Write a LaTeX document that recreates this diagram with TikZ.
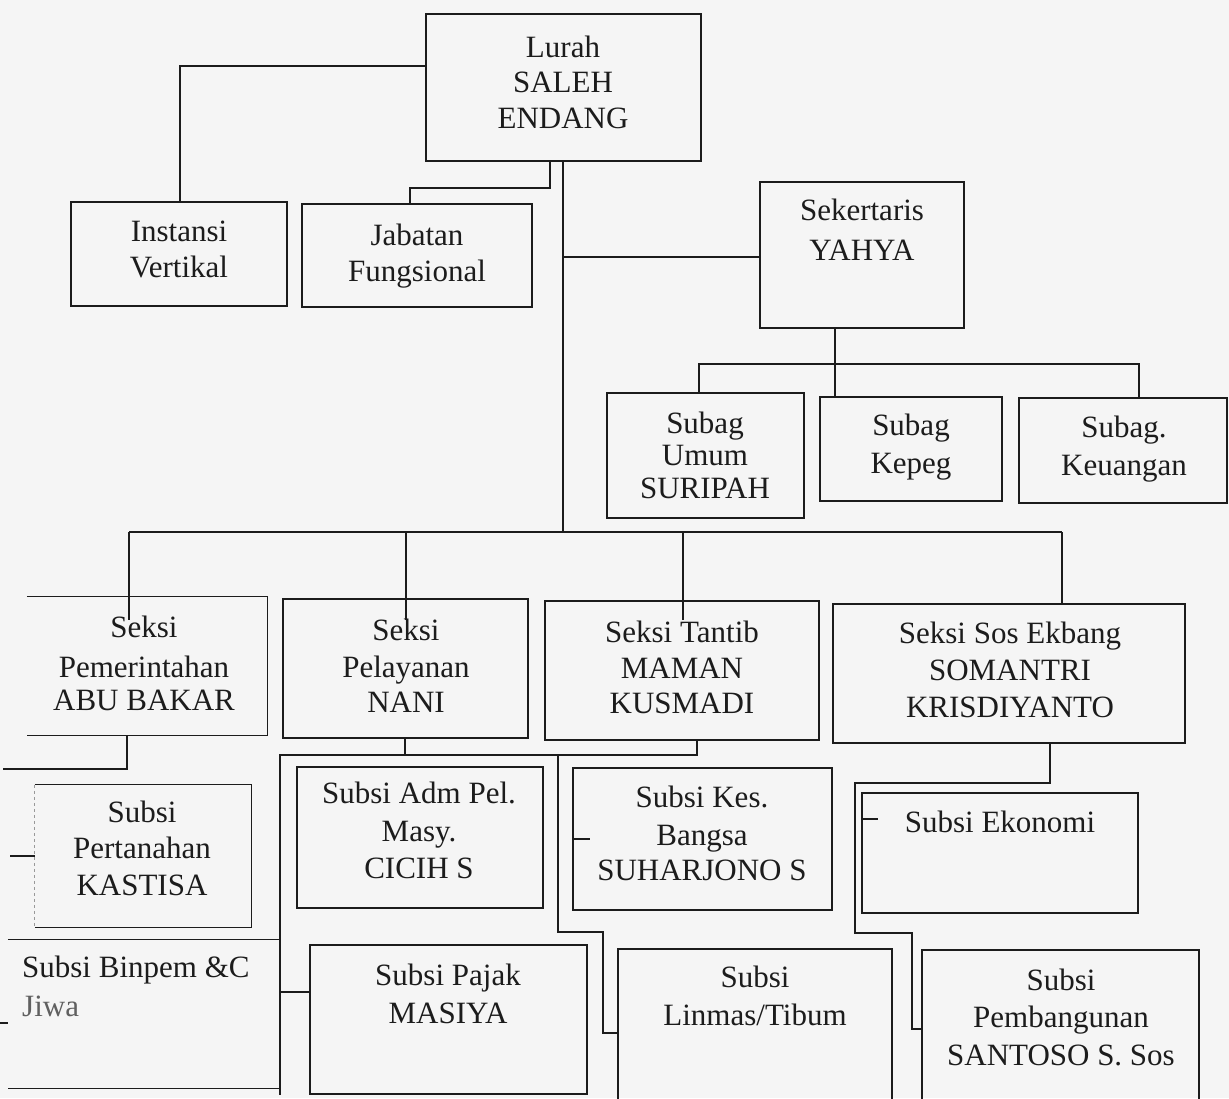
\documentclass[tikz,border=0pt]{standalone}
\usepackage{fontspec}
\setmainfont{Liberation Serif}
\usetikzlibrary{fit,calc}
\definecolor{ink}{HTML}{1C1C1C}
\definecolor{paper}{HTML}{F5F5F5}
\newcommand\txtline[4]{\node[lbl] (#1) at (#2,#3) {#4};}
\begin{document}
\begin{tikzpicture}[x=1pt,y=-1pt,
  obox/.style={draw=ink, line width=1.2pt, inner sep=0pt},
  hbox/.style={draw=none, inner sep=0pt},
  con/.style={draw=ink, line width=1.2pt},
  faint/.style={draw=ink!45, line width=1pt, dashed},
  lbl/.style={anchor=base, inner sep=0pt, text=ink, font=\fontsize{31}{36}\selectfont}]
\useasboundingbox (0,0) rectangle (1229,1098);
\fill[paper] (0,0) rectangle (1229,1098);
\clip (0,0) rectangle (1229,1098);

% ---------- boxes ----------
\node[obox, fit={(426,14) (701,161)}] (lurah) {};
\node[obox, fit={(71,202) (287,306)}] (instansi) {};
\node[obox, fit={(302,204) (532,307)}] (jabatan) {};
\node[obox, fit={(760,182) (964,328)}] (sekertaris) {};
\node[obox, fit={(607,393) (804,518)}] (umum) {};
\node[obox, fit={(820,397) (1002,501)}] (kepeg) {};
\node[obox, fit={(1019,398) (1227,503)}] (keuangan) {};
\node[hbox, fit={(27,597) (267,735)}] (pemerintahan) {};
\node[obox, fit={(283,599) (528,738)}] (pelayanan) {};
\node[obox, fit={(545,601) (819,740)}] (tantib) {};
\node[obox, fit={(833,604) (1185,743)}] (sosekbang) {};
\node[hbox, fit={(35,785) (251,927)}] (pertanahan) {};
\node[hbox, fit={(8,940) (279,1088)}] (binpem) {};
\node[obox, fit={(297,767) (543,908)}] (adm) {};
\node[obox, fit={(310,945) (587,1094)}] (pajak) {};
\node[obox, fit={(573,768) (832,910)}] (kesbangsa) {};
\node[obox, fit={(862,793) (1138,913)}] (ekonomi) {};
\node[obox, fit={(618,949) (892,1112)}] (linmas) {};
\node[obox, fit={(922,950) (1199,1112)}] (pembangunan) {};

% open-sided boxes
\draw[con] (pemerintahan.north west) -- (pemerintahan.north east) -- (pemerintahan.south east) -- (pemerintahan.south west);
\draw[con] (pertanahan.north west) -- (pertanahan.north east) -- (pertanahan.south east) -- (pertanahan.south west);
\draw[faint] (pertanahan.north west) -- (pertanahan.south west);
\draw[con] (binpem.north west) -- (binpem.north east) -- (binpem.south east) -- (binpem.south west);

% ---------- texts ----------
\txtline{lurahA}{563}{57}{Lurah}
\txtline{lurahB}{563}{92}{SALEH}
\txtline{lurahC}{563}{128}{ENDANG}
\txtline{instA}{179}{241}{Instansi}
\txtline{instB}{179}{277}{Vertikal}
\txtline{jabA}{417}{245}{Jabatan}
\txtline{jabB}{417}{281}{Fungsional}
\txtline{sekA}{862}{220}{Sekertaris}
\txtline{sekB}{862}{260}{YAHYA}
\txtline{umA}{705}{433}{Subag}
\txtline{umB}{705}{465}{Umum}
\txtline{umC}{705}{498}{SURIPAH}
\txtline{kpA}{911}{435}{Subag}
\txtline{kpB}{911}{473}{Kepeg}
\txtline{kuA}{1124}{437}{Subag.}
\txtline{kuB}{1124}{475}{Keuangan}
\txtline{pmA}{144}{637}{Seksi}
\txtline{pmB}{144}{677}{Pemerintahan}
\txtline{pmC}{144}{710}{ABU BAKAR}
\txtline{plA}{406}{640}{Seksi}
\txtline{plB}{406}{677}{Pelayanan}
\txtline{plC}{406}{712}{NANI}
\txtline{ttA}{682}{642}{Seksi Tantib}
\txtline{ttB}{682}{678}{MAMAN}
\txtline{ttC}{682}{713}{KUSMADI}
\txtline{seA}{1010}{643}{Seksi Sos Ekbang}
\txtline{seB}{1010}{680}{SOMANTRI}
\txtline{seC}{1010}{717}{KRISDIYANTO}
\txtline{ptA}{142}{822}{Subsi}
\txtline{ptB}{142}{858}{Pertanahan}
\txtline{ptC}{142}{895}{KASTISA}
\node[lbl, anchor=base west] (bpA) at (22,977) {Subsi Binpem \&C};
\node[lbl, anchor=base west, text=ink!70] (bpB) at (22,1016) {Jiwa};
\txtline{adA}{419}{803}{Subsi Adm Pel.}
\txtline{adB}{419}{841}{Masy.}
\txtline{adC}{419}{878}{CICIH S}
\txtline{pjA}{448}{985}{Subsi Pajak}
\txtline{pjB}{448}{1023}{MASIYA}
\txtline{kbA}{702}{807}{Subsi Kes.}
\txtline{kbB}{702}{845}{Bangsa}
\txtline{kbC}{702}{880}{SUHARJONO S}
\txtline{ekA}{1000}{832}{Subsi Ekonomi}
\txtline{lmA}{755}{987}{Subsi}
\txtline{lmB}{755}{1025}{Linmas/Tibum}
\txtline{pbA}{1061}{990}{Subsi}
\txtline{pbB}{1061}{1027}{Pembangunan}
\txtline{pbC}{1061}{1065}{SANTOSO S. Sos}

% ---------- connectors ----------
\coordinate (c1) at (180,66);
\draw[con] (lurah.west |- c1) -- (c1) -- (instansi.north -| c1);
\coordinate (c2a) at (550,188);
\coordinate (c2b) at (410,188);
\draw[con] (lurah.south -| c2a) -- (c2a) -- (c2b) -- (jabatan.north -| c2b);
\coordinate (t) at (563,532);
\coordinate (s1) at (563,257);
\draw[con] (lurah.south -| t) -- (t);
\draw[con] (s1) -- (sekertaris.west |- s1);

\coordinate (b2) at (835,364);
\coordinate (b2l) at (699,364);
\coordinate (b2r) at (1139,364);
\draw[con] (sekertaris.south -| b2) -- (kepeg.north -| b2);
\draw[con] (umum.north -| b2l) -- (b2l) -- (b2r) -- (keuangan.north -| b2r);

\coordinate (b3l) at (129,532);
\coordinate (b3r) at (1062,532);
\coordinate (e1) at (129,620);
\coordinate (e2a) at (406,532);
\coordinate (e2) at (406,620);
\coordinate (e3a) at (683,532);
\coordinate (e3) at (683,620);
\draw[con] (b3l) -- (b3r);
\draw[con] (b3l) -- (e1);
\draw[con] (e2a) -- (e2);
\draw[con] (e3a) -- (e3);
\draw[con] (b3r) -- (sosekbang.north -| b3r);

% Pemerintahan branch
\coordinate (p1) at (127,769);
\coordinate (p0) at (3,769);
\draw[con] (pemerintahan.south -| p1) -- (p1) -- (p0);
\coordinate (p2) at (10,856);
\draw[con] (p2) -- (pertanahan.west |- p2);
\coordinate (p3) at (0,1023);
\coordinate (p3b) at (8,1023);
\draw[con] (p3) -- (p3b);

% Pelayanan + Tantib branch (shared line)
\coordinate (q1) at (405,755);
\coordinate (q0) at (280,755);
\coordinate (q2) at (280,1095);
\coordinate (q3) at (280,992);
\coordinate (r1) at (697,755);
\coordinate (r0) at (558,755);
\coordinate (r2) at (558,932);
\coordinate (r3) at (603,932);
\coordinate (r4) at (603,1033);
\draw[con] (pelayanan.south -| q1) -- (q1);
\draw[con] (tantib.south -| r1) -- (r1) -- (q0) -- (q2);
\draw[con] (q3) -- (pajak.west |- q3);
\draw[con] (r0) -- (r2) -- (r3) -- (r4) -- (linmas.west |- r4);
\coordinate (r5) at (590,839);
\draw[con] (kesbangsa.west |- r5) -- (r5);

% Sos Ekbang branch
\coordinate (u1) at (1050,783);
\coordinate (u0) at (855,783);
\coordinate (u2) at (855,933);
\coordinate (u3) at (912,933);
\coordinate (u4) at (912,1029);
\draw[con] (sosekbang.south -| u1) -- (u1) -- (u0) -- (u2) -- (u3) -- (u4) -- (pembangunan.west |- u4);
\coordinate (u5) at (878,819);
\draw[con] (ekonomi.west |- u5) -- (u5);
\end{tikzpicture}
\end{document}
